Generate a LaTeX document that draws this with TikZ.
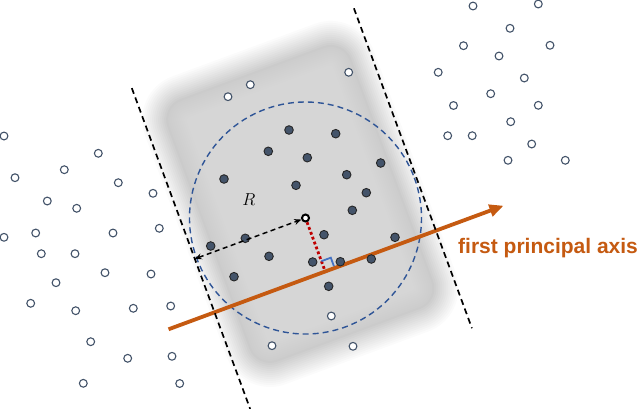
\documentclass[tikz,border=0pt]{standalone}
\usepackage{fontspec}
\newfontfamily\axisfont{Liberation Sans}
\usetikzlibrary{arrows.meta}
\definecolor{axisorange}{HTML}{C55A11}
\definecolor{dotslate}{HTML}{44546A}
\definecolor{circblue}{HTML}{2F5597}
\definecolor{markblue}{HTML}{4472C4}
\definecolor{perpred}{HTML}{C00000}
\begin{document}
\begin{tikzpicture}[x=1pt,y=-1pt,
  opendot/.style={circle,draw=dotslate,fill=white,line width=1.1pt,inner sep=0pt,minimum size=7.8pt},
  filldot/.style={circle,draw=black!85,fill=dotslate,line width=0.9pt,inner sep=0pt,minimum size=8.6pt},
  centerdot/.style={circle,draw=black,fill=white,line width=2pt,inner sep=0pt,minimum size=7pt},
  boundline/.style={black,line width=1.7pt,dash pattern=on 6pt off 4pt},
  ballline/.style={circblue,line width=1.4pt,dash pattern=on 6pt off 4pt},
  axisline/.style={axisorange,line width=3.8pt,-{Triangle[length=14pt,width=12pt]}},
  radarrow/.style={black,line width=1.5pt,dash pattern=on 5pt off 3.5pt,{Stealth[length=7pt,width=6pt]}-{Stealth[length=7pt,width=6pt]}},
  perpline/.style={perpred,line width=2.8pt,dash pattern=on 2.8pt off 2.4pt},
  rightmark/.style={markblue,line width=1.8pt},
  axislabel/.style={text=axisorange,font=\axisfont\bfseries\fontsize{21}{24}\selectfont,anchor=base west,inner sep=0pt},
  rlabel/.style={font=\fontsize{18}{21}\selectfont,inner sep=0pt}
]
\useasboundingbox (0,0) rectangle (640,408);
\fill[white] (0,0) rectangle (640,408);

% soft-edged gray box, aligned with the axis
\begin{scope}[shift={(305.5,218)},rotate=20.25]
  \foreach \d [evaluate=\d as \r using {max(34-\d,4)}] in {-12,-10,...,12}
    \fill[black,opacity=0.016,rounded corners=\r pt] (-110+\d,-167+\d) rectangle (110-\d,137-\d);
  \foreach \d [evaluate=\d as \r using {max(34-\d,4)}] in {14,16,...,32}
    \fill[white,opacity=0.038,rounded corners=\r pt] (-110+\d,-167+\d) rectangle (110-\d,137-\d);
  \coordinate (lefttop) at (-118,-182);
  \coordinate (leftbot) at (-118,160);
  \coordinate (righttop) at (118,-180);
  \coordinate (rightbot) at (118,161);
  \coordinate (leftfoot) at (-118,0);
  \coordinate (axisfoot) at (0,55);
  \coordinate (axstart) at (-167,57);
  \coordinate (axend) at (190,57);
  \coordinate (mk1) at (0,46);
  \coordinate (mk2) at (10,46);
  \coordinate (mk3) at (10,55);
  \draw[ballline] (0,0) circle[radius=116];
\end{scope}

\draw[axisline] (axstart) -- (axend);
\draw[boundline] (lefttop) -- (leftbot);
\draw[boundline] (righttop) -- (rightbot);

% open (outside) points
\foreach \p [count=\i] in {
 {4,136},{98.3,153.3},{15,177.7},{64.3,169.7},{118.3,182.7},{153,193.3},{47.3,201},{76.7,208.3},
 {4,237.3},{35.7,233},{113,233},{159.3,228.3},{41.3,253.7},{75,253.7},{105,272.7},{151,274},
 {56,282.7},{30.7,303.3},{75.7,310.7},{133.3,308.3},{170.7,306},{90.7,341.7},{127.7,358.3},
 {172,356.3},{83.3,383.3},{179.7,383.5},
 {228,96.7},{250.3,84.7},{348.7,72.3},{331.3,316},{272,345.7},{353,346.3},
 {473,6},{538.3,4},{510,28.3},{463.5,45.7},{550,45.3},{499,56},{438.2,72.3},{524.3,78},
 {490.7,93.7},{453.5,105.5},{538.3,105.3},{510.7,121.7},{447.7,135.7},{472.2,135.7},
 {531.7,144},{508,160.3},{565.3,160.3}}
  \node[opendot] (o\i) at (\p) {};

% filled (inside) points
\foreach \p [count=\i] in {
 {289,130},{335.7,133.7},{268.3,151.3},{307.3,157.7},{380.7,163},{224,179},{346.7,174.7},
 {296,185.3},{366.3,192.7},{352.3,210.3},{324,234.7},{395,237.3},{210.7,246},{245.3,238.3},
 {269,256.3},{312.7,262},{340.3,261.7},{371.3,259},{234,276.7},{328.7,286.3}}
  \node[filldot] (f\i) at (\p) {};

\node[centerdot] (ctr) at (305.5,218) {};
\draw[perpline] (ctr) -- (axisfoot);
\draw[rightmark] (mk1) -- (mk2) -- (mk3);
\draw[radarrow] (leftfoot) -- (ctr);

\node[rlabel] (rl) at (249,200) {$R$};
\node[axislabel] (al) at (458,253) {first principal axis};
\end{tikzpicture}
\end{document}
